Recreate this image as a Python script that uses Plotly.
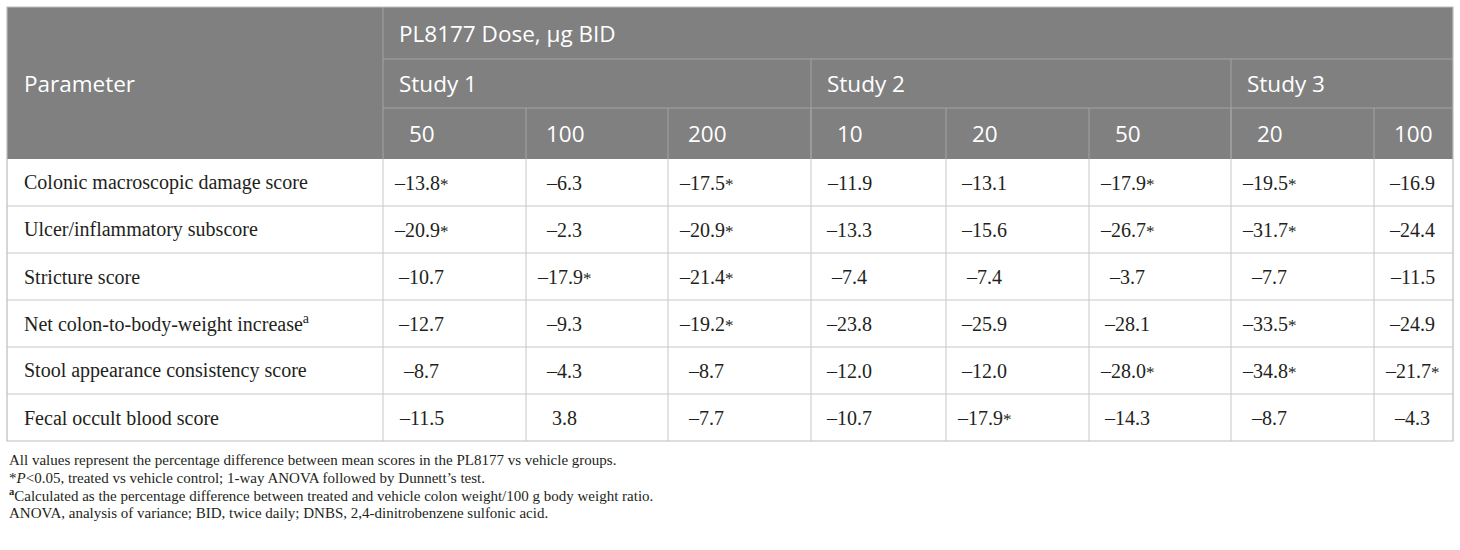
import plotly.graph_objects as go

# ---- data ----
params = [
    "Colonic macroscopic damage score",
    "Ulcer/inflammatory subscore",
    "Stricture score",
    "Net colon-to-body-weight increase<sup>a</sup>",
    "Stool appearance consistency score",
    "Fecal occult blood score",
]
studies = ["Study 1", "Study 2", "Study 3"]
study_span = [3, 3, 2]
doses = ["50", "100", "200", "10", "20", "50", "20", "100"]

values = [
    [-13.8, -6.3, -17.5, -11.9, -13.1, -17.9, -19.5, -16.9],
    [-20.9, -2.3, -20.9, -13.3, -15.6, -26.7, -31.7, -24.4],
    [-10.7, -17.9, -21.4, -7.4, -7.4, -3.7, -7.7, -11.5],
    [-12.7, -9.3, -19.2, -23.8, -25.9, -28.1, -33.5, -24.9],
    [-8.7, -4.3, -8.7, -12.0, -12.0, -28.0, -34.8, -21.7],
    [-11.5, 3.8, -7.7, -10.7, -17.9, -14.3, -8.7, -4.3],
]
signif = [
    [1, 0, 1, 0, 0, 1, 1, 0],
    [1, 0, 1, 0, 0, 1, 1, 0],
    [0, 1, 1, 0, 0, 0, 0, 0],
    [0, 0, 1, 0, 0, 0, 1, 0],
    [0, 0, 0, 0, 0, 1, 1, 1],
    [0, 0, 0, 0, 1, 0, 0, 0],
]
footnotes = [
    "All values represent the percentage difference between mean scores in the PL8177 vs vehicle groups.",
    "*<i>P</i>&lt;0.05, treated vs vehicle control; 1-way ANOVA followed by Dunnett\u2019s test.",
    "<sup><b>a</b></sup>Calculated as the percentage difference between treated and vehicle colon weight/100 g body weight ratio.",
    "ANOVA, analysis of variance; BID, twice daily; DNBS, 2,4-dinitrobenzene sulfonic acid.",
]

# ---- layout of the table (page units) ----
col_x = [7, 383, 526, 668, 811, 946, 1089, 1231, 1374, 1453]
head_y = [7, 59, 108, 159]
row_h = 47
body_y = [head_y[-1] + row_h * i for i in range(len(params) + 1)]

HEAD_BG = "#808080"
HEAD_LINE = "#a3a3a3"
BODY_LINE = "#c8c8c8"
HFONT = dict(family="Open Sans", size=22.5, color="white")
BFONT = dict(family="Liberation Serif", size=20, color="#231f20")
FFONT = dict(family="Liberation Serif", size=15, color="#231f20")


def fmt(v, s):
    t = ("\u2013" if v < 0 else "") + f"{abs(v):.1f}"
    return t + ("<span style='font-size:17px'>*</span>" if s else "")


fig = go.Figure()
shapes = []
ann = []

# header background
shapes.append(dict(type="rect", x0=col_x[0], x1=col_x[-1], y0=head_y[0], y1=head_y[-1],
                   fillcolor=HEAD_BG, line_width=0, layer="below"))
# header lines
shapes.append(dict(type="line", x0=col_x[1], x1=col_x[1], y0=head_y[0], y1=head_y[-1],
                   line=dict(color=HEAD_LINE, width=1)))
for y in head_y[1:3]:
    shapes.append(dict(type="line", x0=col_x[1], x1=col_x[-1], y0=y, y1=y,
                       line=dict(color=HEAD_LINE, width=1)))
# study separators
edges = [1]
for n in study_span:
    edges.append(edges[-1] + n)
for e in edges[1:-1]:
    shapes.append(dict(type="line", x0=col_x[e], x1=col_x[e], y0=head_y[1], y1=head_y[-1],
                       line=dict(color=HEAD_LINE, width=1)))
# dose separators
for i in range(2, len(col_x) - 1):
    shapes.append(dict(type="line", x0=col_x[i], x1=col_x[i], y0=head_y[2], y1=head_y[-1],
                       line=dict(color=HEAD_LINE, width=1)))

# body grid
for y in body_y[1:-1]:
    shapes.append(dict(type="line", x0=col_x[0], x1=col_x[-1], y0=y, y1=y,
                       line=dict(color=BODY_LINE, width=1)))
for x in col_x[1:-1]:
    shapes.append(dict(type="line", x0=x, x1=x, y0=body_y[0], y1=body_y[-1],
                       line=dict(color=BODY_LINE, width=1)))
shapes.append(dict(type="rect", x0=col_x[0], x1=col_x[-1], y0=head_y[0], y1=body_y[-1],
                   line=dict(color="#bdbdbd", width=1.2)))

# header text
ann.append(dict(x=col_x[0] + 15, y=(head_y[0] + head_y[-1]) / 2, text="Parameter",
                xanchor="left", font=HFONT))
ann.append(dict(x=col_x[1] + 14, y=(head_y[0] + head_y[1]) / 2, text="PL8177 Dose, \u00b5g BID",
                xanchor="left", font=HFONT))
for s, e in zip(studies, edges[:-1]):
    ann.append(dict(x=col_x[e] + 14, y=(head_y[1] + head_y[2]) / 2, text=s,
                    xanchor="left", font=HFONT))
for j, d in enumerate(doses):
    ann.append(dict(x=col_x[j + 1] + 39, y=(head_y[2] + head_y[3]) / 2, text=d,
                    xanchor="center", font=HFONT))

# body text
for i, p in enumerate(params):
    yc = (body_y[i] + body_y[i + 1]) / 2
    ann.append(dict(x=col_x[0] + 15, y=yc, text=p, xanchor="left", font=BFONT))
    for j in range(len(doses)):
        ann.append(dict(x=col_x[j + 1] + 38, y=yc, text=fmt(values[i][j], signif[i][j]),
                        xanchor="center", font=BFONT))

# footnotes
for k, t in enumerate(footnotes):
    ann.append(dict(x=col_x[0], y=body_y[-1] + 19 + 17.5 * k, text=t, xanchor="left", font=FFONT))

for a in ann:
    a.update(xref="x", yref="y", showarrow=False, yanchor="middle")

fig.update_layout(
    width=1460, height=550,
    margin=dict(l=0, r=0, t=0, b=0),
    paper_bgcolor="white", plot_bgcolor="white",
    shapes=shapes, annotations=ann,
    showlegend=False,
    xaxis=dict(range=[0, 1460], visible=False, fixedrange=True),
    yaxis=dict(range=[550, 0], visible=False, fixedrange=True),
)
fig.write_html("out.html", config={"displayModeBar": False},
               post_script="document.body.style.margin='0';document.body.style.overflow='hidden';")
